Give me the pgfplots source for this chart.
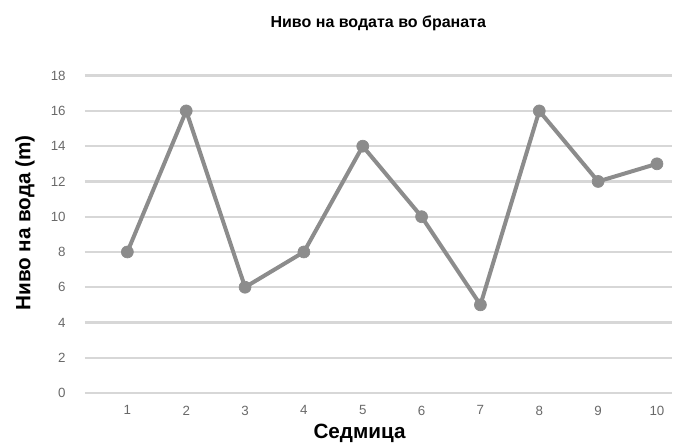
\documentclass[border=0pt]{standalone}
\usepackage{fontspec}
\setmainfont{Liberation Sans}
\usepackage{pgfplots}
\pgfplotsset{compat=1.18}
\definecolor{linegray}{RGB}{140,140,140}
\definecolor{gridgray}{RGB}{215,215,215}
\definecolor{tickgray}{RGB}{105,105,105}
\begin{document}
\begin{tikzpicture}
\path[use as bounding box] (-63.75pt,-38.25pt) rectangle (445.5pt,294.75pt);
\begin{axis}[
  scale only axis,
  width=440pt, height=238pt,
  xmin=0.28, xmax=10.25,
  ymin=0, ymax=18,
  xtick={1,...,10},
  ytick={0,2,...,18},
  axis line style={draw=none},
  tick style={draw=none},
  ymajorgrids,
  grid style={gridgray, line width=1.8pt},
  /pgf/number format/assume math mode=true,
  ticklabel style={font=\fontsize{10}{12}\selectfont, text=tickgray},
  yticklabel style={xshift=-11pt},
  xticklabel style={yshift=-6pt},
  title={\textbf{Ниво на водата во браната}},
  title style={font=\fontsize{12}{14}\selectfont, at={(0.5,1)}, anchor=base, yshift=30pt},
  xlabel={\textbf{Седмица}},
  xlabel style={font=\fontsize{15.5}{18}\selectfont, at={(0.468,0)}, anchor=base, yshift=-34pt},
  ylabel={\textbf{Ниво на вода (m)}},
  ylabel style={font=\fontsize{15.5}{18}\selectfont, at={(0,0.536)}, anchor=base, yshift=41pt},
]
\addplot[color=linegray, line width=3pt, mark=*, mark size=4.5pt, mark options={fill=linegray, draw=linegray, line width=0.5pt}]
  coordinates {(1,8) (2,16) (3,6) (4,8) (5,14) (6,10) (7,5) (8,16) (9,12) (10,13)};
\end{axis}
\end{tikzpicture}
\end{document}
